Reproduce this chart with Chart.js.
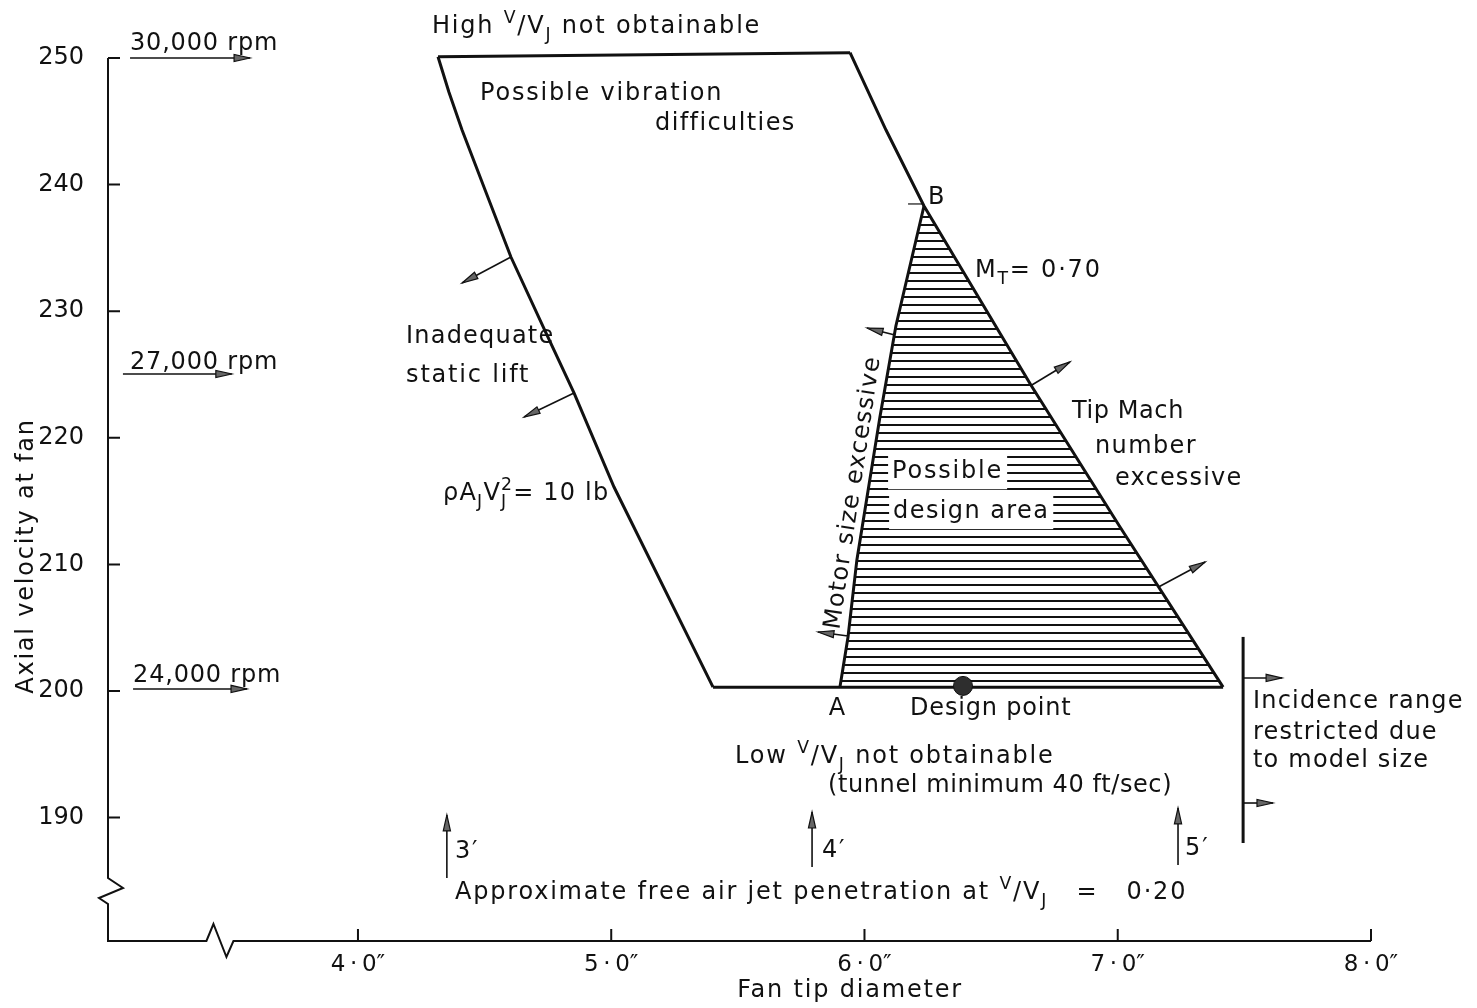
<!DOCTYPE html>
<html>
<head>
<meta charset="utf-8">
<title>Fan design area</title>
<script src="https://cdn.jsdelivr.net/npm/chart.js@4.4.1/dist/chart.umd.min.js"></script>
<style>
  html, body { margin: 0; padding: 0; background: #fff; }
  #wrap { width: 1477px; height: 1008px; position: relative; }
</style>
</head>
<body>
<div id="wrap"><canvas id="c"></canvas></div>
<script>
// Axial velocity at fan (ft/sec) against fan tip diameter (in): the feasible design region
const FAMILY = '"DejaVu Sans", sans-serif';
const INK = '#111';

// Inadequate static lift boundary, rho*Aj*Vj^2 = 10 lb
const liftDia = [4.316, 4.359, 4.411, 4.505, 4.604, 4.746, 4.853, 5.011, 5.402];
const liftVel = [250.1, 247.31, 244.31, 239.42, 234.28, 228.12, 223.54, 216.11, 200.3];
// High V/Vj not obtainable (upper edge)
const highDia = [4.316, 5.943];
const highVel = [250.1, 250.42];
// Tip Mach number limit, M_T = 0.70 (passes through B)
const machDia = [5.943, 6.085, 6.235, 6.657, 7.009, 7.416];
const machVel = [250.42, 244.31, 238.31, 224.17, 212.95, 200.3];
// Low V/Vj not obtainable (tunnel minimum speed)
const lowDia = [5.402, 7.416];
const lowVel = [200.3, 200.3];
// Motor size limit, from A to B
const motorDia = [5.903, 5.935, 5.970, 6.061, 6.124, 6.235];
const motorVel = [200.3, 204.26, 210.35, 221.64, 228.83, 238.31];
// Design point
const designDia = [6.389];
const designVel = [200.4];

// Axis ticks
const xTickValues = [4, 5, 6, 7, 8];
const yTickValues = [190, 200, 210, 220, 230, 240, 250];

const zip = (xs, ys) => xs.map((x, i) => ({ x, y: ys[i] }));

// Possible design area: motor line A->B, then Mach line from B down to the tunnel limit
const areaDia = motorDia.concat(machDia.slice(3));
const areaVel = motorVel.concat(machVel.slice(3));

function hatchPattern() {
  const c = document.createElement('canvas');
  c.width = 16; c.height = 8;
  const g = c.getContext('2d');
  g.fillStyle = INK;
  g.fillRect(0, 0, 16, 2);
  return document.getElementById('c').getContext('2d').createPattern(c, 'repeat');
}

// V/Vj written as a raised V over a slash and V with subscript J
const VVJ = [['V', 'sup'], ['/', ''], ['V', ''], ['J', 'sub']];

// Text notes, placed in data units (diameter, velocity); baseline-left unless stated
const notes = [
  { x: 3.100, y: 250.63, parts: [['30,000 rpm', '']], ls: 0.8 },
  { x: 3.100, y: 225.43, parts: [['27,000 rpm', '']], ls: 0.8 },
  { x: 3.112, y: 200.71, parts: [['24,000 rpm', '']], ls: 0.8 },
  { x: 4.292, y: 251.97, parts: [['High ', '']].concat(VVJ, [[' not obtainable', '']]) },
  { x: 4.482, y: 246.68, parts: [['Possible vibration', '']] },
  { x: 5.173, y: 244.31, parts: [['difficulties', '']], ls: 1.4 },
  { x: 6.251, y: 238.47, parts: [['B', '']] },
  { x: 6.436, y: 232.70, parts: [['M', ''], ['T', 'sub'], ['= 0·70', '']] },
  { x: 4.190, y: 227.49, parts: [['Inadequate', '']], ls: 1.2 },
  { x: 4.190, y: 224.41, parts: [['static lift', '']] },
  { x: 4.336, y: 215.09, parts: [['ρ', ''], ['A', ''], ['J', 'sub'], ['V', ''], ['J', 'sub', true], ['2', 'sup'], ['= 10 lb', '']], ls: 1.2 },
  { x: 6.109, y: 216.82, parts: [['Possible', '']], box: true },
  { x: 6.113, y: 213.67, parts: [['design area', '']], box: true, ls: 1.4 },
  { x: 6.819, y: 221.56, parts: [['Tip Mach', '']], ls: 0.6 },
  { x: 6.910, y: 218.80, parts: [['number', '']], ls: 1.4 },
  { x: 6.989, y: 216.27, parts: [['excessive', '']], ls: 1.2 },
  { x: 5.895, y: 198.10, parts: [['A', '']], center: true },
  { x: 6.180, y: 198.10, parts: [['Design point', '']], ls: 0.8 },
  { x: 5.489, y: 194.31, parts: [['Low ', '']].concat(VVJ, [[' not obtainable', '']]) },
  { x: 5.856, y: 192.02, parts: [['(tunnel minimum 40 ft/sec)', '']], ls: 0.6 },
  { x: 7.534, y: 198.66, parts: [['Incidence range', '']], ls: 1.2 },
  { x: 7.534, y: 196.21, parts: [['restricted due', '']], ls: 1.2 },
  { x: 7.534, y: 194.00, parts: [['to model size', '']], ls: 1.2 },
  { x: 4.383, y: 186.81, parts: [['3\u2032', '']] },
  { x: 5.832, y: 186.89, parts: [['4\u2032', '']] },
  { x: 7.266, y: 187.04, parts: [['5\u2032', '']] },
  { x: 4.383, y: 183.57, parts: [['Approximate free air jet penetration at ', '']].concat(VVJ, [['   =   0·20', '']]) },
  { x: 5.900, y: 204.82, parts: [['Motor size excessive', '']], rotate: -81.5, ls: 1.4 }
];

// Direction arrows (tail -> head) in data units
const arrows = [
  { from: [3.100, 250.0], to: [3.574, 250.0] },
  { from: [3.072, 225.04], to: [3.502, 225.04] },
  { from: [3.112, 200.16], to: [3.562, 200.16] },
  { from: [4.604, 234.28], to: [4.411, 232.23] },
  { from: [4.853, 223.54], to: [4.656, 221.64] },
  { from: [6.120, 228.12], to: [6.010, 228.67] },
  { from: [5.935, 204.34], to: [5.816, 204.66] },
  { from: [6.661, 224.17], to: [6.811, 225.99] },
  { from: [7.161, 208.21], to: [7.345, 210.19] },
  { from: [7.495, 201.03], to: [7.649, 201.03] },
  { from: [7.495, 191.15], to: [7.613, 191.15] },
  { from: [4.351, 185.23], to: [4.351, 190.21] },
  { from: [5.793, 186.10], to: [5.793, 190.44] },
  { from: [7.238, 186.26], to: [7.238, 190.76] }
];

// Plain strokes: incidence range bar and the small tick at B
const strokes = [
  { from: [7.495, 204.27], to: [7.495, 187.99], w: 3 },
  { from: [6.172, 238.47], to: [6.231, 238.47], w: 1.2 }
];

// Axis breaks (data position of the zigzag centre)
const yBreakAt = 184.2;
const xBreakAt = 3.455;

const SCRIPT = 0.72;

function drawRich(ctx, x, y, parts, size) {
  let cx = x;
  for (const [t, mode, keep] of parts) {
    let fs = size, dy = 0;
    if (mode === 'sup') { fs = size * SCRIPT; dy = -size * 0.4; }
    if (mode === 'sub') { fs = size * SCRIPT; dy = size * 0.28; }
    ctx.font = fs + 'px ' + FAMILY;
    ctx.fillText(t, cx, y + dy);
    if (!keep) cx += ctx.measureText(t).width;
  }
}

function richWidth(ctx, parts, size) {
  let w = 0;
  for (const [t, mode, keep] of parts) {
    const fs = (mode === 'sup' || mode === 'sub') ? size * SCRIPT : size;
    ctx.font = fs + 'px ' + FAMILY;
    if (!keep) w += ctx.measureText(t).width;
  }
  return w;
}

function drawArrow(ctx, x1, y1, x2, y2) {
  const a = Math.atan2(y2 - y1, x2 - x1);
  const len = 16, hw = 3.6;
  ctx.lineWidth = 1.6;
  ctx.beginPath(); ctx.moveTo(x1, y1); ctx.lineTo(x2, y2); ctx.stroke();
  const bx = x2 - Math.cos(a) * len, by = y2 - Math.sin(a) * len;
  const nx = -Math.sin(a) * hw, ny = Math.cos(a) * hw;
  ctx.beginPath();
  ctx.moveTo(x2, y2); ctx.lineTo(bx + nx, by + ny); ctx.lineTo(bx - nx, by - ny); ctx.closePath();
  ctx.fillStyle = '#666'; ctx.fill();
  ctx.lineWidth = 1.2; ctx.stroke();
}

const drawingPlugin = {
  id: 'drawing',
  afterDatasetsDraw(chart) {
    const ctx = chart.ctx;
    const xs = chart.scales.x, ys = chart.scales.y;
    const px = v => xs.getPixelForValue(v);
    const py = v => ys.getPixelForValue(v);
    const area = chart.chartArea;
    const x0 = area.left, yb = area.bottom;
    ctx.save();
    ctx.strokeStyle = INK;
    ctx.fillStyle = INK;
    ctx.lineCap = 'butt';
    ctx.lineJoin = 'miter';

    // y axis with break, then x axis with break
    const yTop = py(250);
    const yc = py(yBreakAt);
    ctx.lineWidth = 2;
    ctx.beginPath();
    ctx.moveTo(x0, yTop);
    ctx.lineTo(x0, yc - 13);
    ctx.lineTo(x0 + 15, yc - 3);
    ctx.lineTo(x0 - 9, yc + 7);
    ctx.lineTo(x0, yc + 13);
    ctx.lineTo(x0, yb);
    const xc = px(xBreakAt);
    ctx.lineTo(xc - 13.5, yb);
    ctx.lineTo(xc - 6.5, yb - 17);
    ctx.lineTo(xc + 6.5, yb + 16);
    ctx.lineTo(xc + 13.5, yb);
    ctx.lineTo(px(8), yb);
    ctx.stroke();

    // inward tick marks
    ctx.beginPath();
    for (const v of yTickValues) { ctx.moveTo(x0, py(v)); ctx.lineTo(x0 + 12, py(v)); }
    for (const v of xTickValues) { ctx.moveTo(px(v), yb); ctx.lineTo(px(v), yb - 12); }
    ctx.stroke();

    for (const s of strokes) {
      ctx.lineWidth = s.w;
      ctx.beginPath();
      ctx.moveTo(px(s.from[0]), py(s.from[1]));
      ctx.lineTo(px(s.to[0]), py(s.to[1]));
      ctx.stroke();
    }
    for (const a of arrows) {
      drawArrow(ctx, px(a.from[0]), py(a.from[1]), px(a.to[0]), py(a.to[1]));
    }

    // notes
    const size = 24;
    ctx.textBaseline = 'alphabetic';
    ctx.textAlign = 'left';
    for (const n of notes) {
      ctx.letterSpacing = (n.ls !== undefined ? n.ls : 1.8) + 'px';
      let x = px(n.x), y = py(n.y);
      const w = richWidth(ctx, n.parts, size);
      if (n.center) x -= w / 2;
      if (n.box) {
        ctx.fillStyle = '#fff';
        ctx.fillRect(x - 4, y - size * 0.8 - 3, w + 8, size * 1.1 + 7);
      }
      ctx.fillStyle = INK;
      if (n.rotate) {
        ctx.save();
        ctx.translate(x, y);
        ctx.rotate(n.rotate * Math.PI / 180);
        drawRich(ctx, 0, 0, n.parts, size);
        ctx.restore();
      } else {
        drawRich(ctx, x, y, n.parts, size);
      }
    }

    // axis titles
    ctx.letterSpacing = '1.8px';
    ctx.font = size + 'px ' + FAMILY;
    ctx.textAlign = 'center';
    ctx.fillText('Fan tip diameter', px(5.943), yb + 56);
    ctx.save();
    ctx.translate(x0 - 75, py(210.66));
    ctx.rotate(-Math.PI / 2);
    ctx.fillText('Axial velocity at fan', 0, 0);
    ctx.restore();
    ctx.restore();
  }
};

const lineStyle = { showLine: true, pointRadius: 0, borderColor: INK, borderWidth: 3, tension: 0, fill: false, clip: false };

new Chart(document.getElementById('c'), {
  type: 'scatter',
  data: {
    datasets: [
      { label: 'Design point', data: zip(designDia, designVel), showLine: false, clip: false,
        pointRadius: 9.5, backgroundColor: '#2e2e2e', borderColor: '#111', borderWidth: 1 },
      Object.assign({ label: 'Motor size limit', data: zip(motorDia, motorVel) }, lineStyle),
      Object.assign({ label: 'Static lift limit', data: zip(liftDia, liftVel) }, lineStyle),
      Object.assign({ label: 'High V/Vj limit', data: zip(highDia, highVel) }, lineStyle),
      Object.assign({ label: 'Tip Mach limit', data: zip(machDia, machVel) }, lineStyle),
      Object.assign({ label: 'Low V/Vj limit', data: zip(lowDia, lowVel) }, lineStyle),
      { label: 'Possible design area', data: zip(areaDia, areaVel), showLine: true, pointRadius: 0,
        borderWidth: 0, borderColor: 'rgba(0,0,0,0)', tension: 0, fill: 'shape', clip: false,
        backgroundColor: hatchPattern() }
    ]
  },
  options: {
    responsive: true,
    maintainAspectRatio: false,
    animation: false,
    events: [],
    layout: { padding: { left: 0, top: 58, right: 106, bottom: 0 } },
    plugins: { legend: { display: false }, tooltip: { enabled: false } },
    scales: {
      x: {
        type: 'linear', min: 3.013, max: 8.0,
        grid: { display: false, drawTicks: false },
        border: { display: false },
        afterBuildTicks: s => { s.ticks = xTickValues.map(v => ({ value: v })); },
        afterFit: s => { s.height = 67; },
        ticks: {
          padding: 10, color: INK, font: { family: FAMILY, size: 23 },
          callback: v => v.toFixed(1).replace('.', '\u2009·\u2009') + '\u2033'
        }
      },
      y: {
        type: 'linear', min: 180.25, max: 250,
        grid: { display: false, drawTicks: false },
        border: { display: false },
        afterBuildTicks: s => { s.ticks = yTickValues.map(v => ({ value: v })); },
        afterFit: s => { s.width = 108; },
        ticks: { padding: 24, color: INK, font: { family: FAMILY, size: 24 }, callback: v => String(v) }
      }
    }
  },
  plugins: [drawingPlugin]
});
</script>
</body>
</html>
